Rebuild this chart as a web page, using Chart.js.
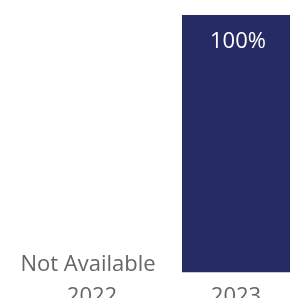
<!DOCTYPE html>
<html>
<head>
<meta charset="utf-8">
<script src="https://cdn.jsdelivr.net/npm/chart.js@4"></script>
<style>
  html, body { margin: 0; padding: 0; background: #fff; overflow: hidden; width: 290px; height: 298px; }
  #wrap { width: 290px; height: 298px; overflow: hidden; position: relative; }
  canvas { display: block; }
</style>
</head>
<body>
<div id="wrap"><canvas id="yearChart" width="322" height="321"></canvas></div>
<script>
// 数据
const years = ['2022', '2023'];
const shares = [null, 100];
const valueLabels = ['Not Available', '100%'];

const barColor = '#262b66';
const textColor = '#666666';
const fontFamily = '"Open Sans", "Noto Sans", sans-serif';

// 柱子上的文字
const barLabels = {
    id: 'barLabels',
    afterDatasetsDraw(chart) {
        const ctx = chart.ctx;
        const meta = chart.getDatasetMeta(0);
        const yScale = chart.scales.y;
        ctx.save();
        ctx.font = '22px ' + fontFamily;
        ctx.textAlign = 'center';
        meta.data.forEach((bar, i) => {
            const x = chart.scales.x.getPixelForValue(i);
            if (shares[i] === null) {
                ctx.fillStyle = textColor;
                ctx.textBaseline = 'alphabetic';
                ctx.fillText(valueLabels[i], x - 4, yScale.bottom - 2);
            } else {
                ctx.fillStyle = '#ffffff';
                ctx.textBaseline = 'top';
                ctx.fillText(valueLabels[i], x + 2, bar.y + 16);
            }
        });
        ctx.restore();
    }
};

const ctx = document.getElementById('yearChart').getContext('2d');
new Chart(ctx, {
    type: 'bar',
    data: {
        labels: years,
        datasets: [{
            data: shares,
            backgroundColor: barColor,
            borderWidth: 0,
            barPercentage: 0.75,
            categoryPercentage: 1
        }]
    },
    options: {
        responsive: false,
        animation: false,
        layout: { padding: { left: 20, right: 14, top: 15, bottom: 0 } },
        scales: {
            x: {
                grid: { display: false, drawTicks: false },
                border: { display: false },
                ticks: {
                    color: textColor,
                    padding: 11,
                    font: { family: fontFamily, size: 22 }
                }
            },
            y: {
                display: false,
                min: 0,
                max: 100
            }
        },
        plugins: {
            legend: { display: false },
            tooltip: { enabled: false }
        }
    },
    plugins: [barLabels]
});
</script>
</body>
</html>
